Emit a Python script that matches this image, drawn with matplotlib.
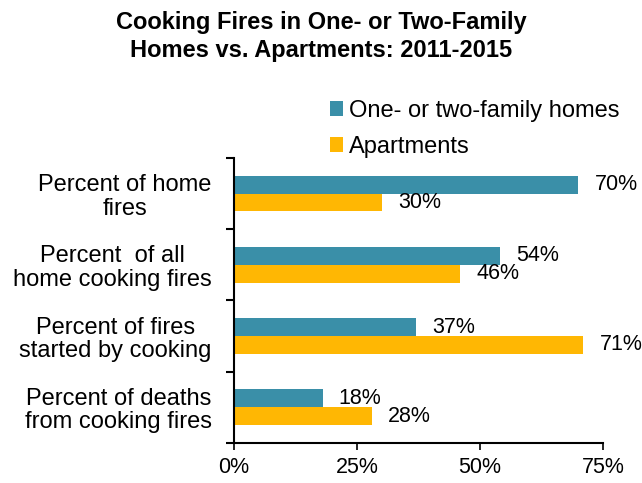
import matplotlib.pyplot as plt
import numpy as np

plt.rcParams['font.family'] = ['Liberation Sans', 'DejaVu Sans']

categorias = ['Percent of home\nfires', 'Percent  of all\nhome cooking fires',
              'Percent of fires\nstarted by cooking', 'Percent of deaths\nfrom cooking fires']
casas = [70, 54, 37, 18]
apartamentos = [30, 46, 71, 28]
series = ['One- or two-family homes', 'Apartments']
cor_casas = '#3a8fa8'
cor_apto = '#ffb703'

fig = plt.figure(figsize=(6.42, 4.83), dpi=100)
ax = fig.add_axes([0.3645, 0.083, 0.5745, 0.59])

y = np.arange(len(categorias))
altura = 0.25
b1 = ax.barh(y - altura / 2, casas, height=altura, color=cor_casas, label=series[0])
b2 = ax.barh(y + altura / 2, apartamentos, height=altura, color=cor_apto, label=series[1])

for barras, vals in [(b1, casas), (b2, apartamentos)]:
    for barra, v in zip(barras, vals):
        ax.text(v + 3.3, barra.get_y() + barra.get_height() / 2, f'{v}%',
                va='center', ha='left', fontsize=15.5)

ax.set_ylim(len(categorias) - 0.5, -0.5)
ax.set_xlim(0, 75)
ax.set_xticks([0, 25, 50, 75])
ax.set_xticklabels(['0%', '25%', '50%', '75%'], fontsize=15.5)
ax.set_yticks(y)
ax.set_yticklabels(categorias, fontsize=17, ha='right', multialignment='center',
                   linespacing=1.1)
ax.tick_params(axis='y', length=0, pad=16)
ax.set_yticks(np.arange(-0.5, len(categorias)), minor=True)
ax.tick_params(axis='y', which='minor', length=6, width=1.5)
ax.tick_params(axis='x', length=5, width=1.2, pad=5)
for lado in ['top', 'right']:
    ax.spines[lado].set_visible(False)
ax.spines['left'].set_linewidth(1.5)
ax.spines['bottom'].set_linewidth(1.5)

ax.legend(loc='lower left', bbox_to_anchor=(0.26, 1.0), frameon=False, fontsize=17,
          handlelength=0.55, handleheight=0.55, handletextpad=0.25, labelspacing=0.6,
          borderpad=0, borderaxespad=0)

fig.text(0.5, 0.978, 'Cooking Fires in One- or Two-Family\nHomes vs. Apartments: 2011-2015',
         ha='center', va='top', fontsize=17, fontweight='bold', linespacing=1.32)

fig.savefig('out.png', dpi=100)
